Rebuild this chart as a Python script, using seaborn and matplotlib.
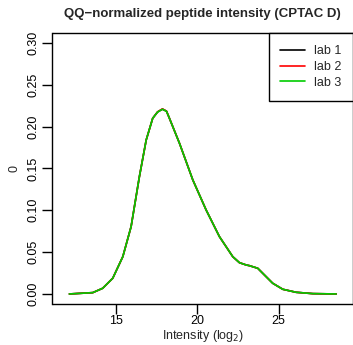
import numpy as np
import pandas as pd
import matplotlib
matplotlib.use("Agg")
import matplotlib.pyplot as plt
import seaborn as sns
from matplotlib.lines import Line2D

# ---- data ----
intensity = [12.12, 13.56, 14.17, 14.79, 15.41, 15.92, 16.43, 16.85, 17.25, 17.55,
             17.85, 18.10, 18.28, 18.90, 19.72, 20.54, 21.36, 22.18, 22.59, 23.00,
             23.21, 23.72, 24.13, 24.64, 25.26, 26.08, 27.11, 28.55]
lab1 = [0.000, 0.0016, 0.0068, 0.0188, 0.0446, 0.0805, 0.1402, 0.1841, 0.2100, 0.2175,
        0.2210, 0.2185, 0.2100, 0.1801, 0.1363, 0.1004, 0.0685, 0.0446, 0.0374, 0.0347,
        0.0338, 0.0307, 0.0227, 0.0128, 0.0056, 0.0020, 0.0004, 0.000]
lab2 = [0.000, 0.0016, 0.0068, 0.0188, 0.0446, 0.0805, 0.1402, 0.1841, 0.2100, 0.2178,
        0.2212, 0.2185, 0.2100, 0.1801, 0.1363, 0.1004, 0.0685, 0.0446, 0.0374, 0.0347,
        0.0338, 0.0307, 0.0227, 0.0128, 0.0056, 0.0020, 0.0004, 0.000]
lab3 = [0.000, 0.0016, 0.0068, 0.0188, 0.0446, 0.0805, 0.1402, 0.1841, 0.2100, 0.2175,
        0.2208, 0.2183, 0.2100, 0.1801, 0.1363, 0.1004, 0.0685, 0.0446, 0.0374, 0.0347,
        0.0338, 0.0307, 0.0227, 0.0128, 0.0056, 0.0020, 0.0004, 0.000]
labs = ["lab 1", "lab 2", "lab 3"]
colors = ["#000000", "#FF0000", "#00CC00"]
x_ticks = [15, 20, 25]
y_ticks = [0.00, 0.05, 0.10, 0.15, 0.20, 0.25, 0.30]
title = "QQ\u2212normalized peptide intensity (CPTAC D)"

df = pd.concat([
    pd.DataFrame({"Intensity": intensity, "density": v, "lab": name})
    for name, v in zip(labs, [lab1, lab2, lab3])
], ignore_index=True)

sns.set_style("ticks")
plt.rcParams["font.family"] = ["Liberation Sans", "DejaVu Sans"]

W, H = 353, 345
fig = plt.figure(figsize=(W / 100, H / 100), dpi=100)
left, right, top, bottom = 52.5, 353.5, 33.3, 304.0
ax = fig.add_axes([left / W, 1 - bottom / H, (right - left) / W, (bottom - top) / H])

sns.lineplot(data=df, x="Intensity", y="density", hue="lab", hue_order=labs,
             palette=colors, linewidth=1.2, ax=ax, legend=False, sort=False,
             estimator=None)

px_per_unit = 16.24
ax.set_xlim(11.08, 11.08 + (right - left) / px_per_unit)
ax.set_ylim(-0.012, 0.3116)
ax.set_xticks(x_ticks)
ax.set_xticklabels([str(t) for t in x_ticks])
ax.set_yticks(y_ticks)
ax.set_yticklabels([f"{t:.2f}" for t in y_ticks], rotation=90, va="center")
ax.tick_params(axis="both", direction="out", length=7, width=1, labelsize=9,
               color="black", labelcolor="black")
ax.tick_params(axis="x", pad=1)
ax.tick_params(axis="y", pad=2)
for s in ax.spines.values():
    s.set_visible(True)
    s.set_color("black")
    s.set_linewidth(1)

ax.set_xlabel("Intensity (log$_2$)", fontsize=9)
ax.xaxis.label.set_va("center")
ax.xaxis.set_label_coords(0.5, -(336 - bottom) / (bottom - top))
ax.set_ylabel("0", fontsize=9)
ax.yaxis.label.set_va("center")
ax.yaxis.set_label_coords((14 - left) / (right - left), 0.5)

handles = [Line2D([], [], color=c, lw=1.2) for c in colors]
leg = ax.legend(handles, labs, loc="upper right", fontsize=9, frameon=True,
                fancybox=False, edgecolor="black", framealpha=1,
                borderaxespad=0, handlelength=2.0, handletextpad=0.7,
                labelspacing=0.3, borderpad=0.95)
leg.get_frame().set_linewidth(1)

fig.text(202.5 / W, 1 - 14 / H, title, ha="center", va="center",
         fontsize=9.5, fontweight="bold")

fig.savefig("out.png", dpi=100)
